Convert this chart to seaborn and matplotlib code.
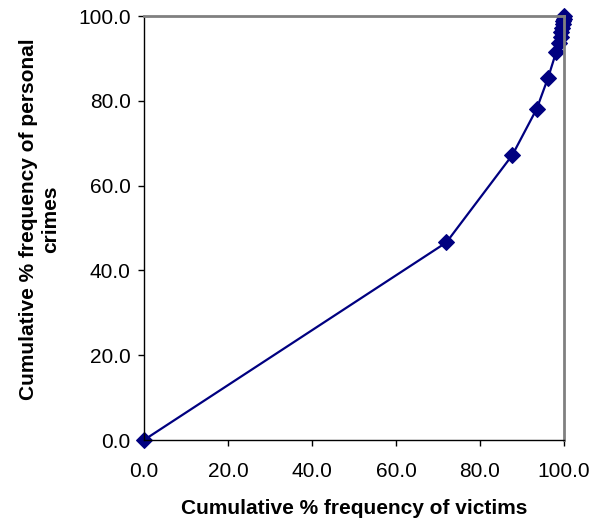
import matplotlib
matplotlib.use("Agg")
import matplotlib.pyplot as plt
import seaborn as sns
import pandas as pd

victims_pct = [0.0, 72.0, 87.7, 93.5, 96.2, 98.1, 98.9, 99.2, 99.4, 99.6, 99.7, 99.8, 99.9, 100.0]
crimes_pct = [0.0, 46.6, 67.2, 78.1, 85.4, 91.4, 93.6, 95.0, 96.2, 97.2, 98.0, 98.8, 99.4, 100.0]
ticks = [0.0, 20.0, 40.0, 60.0, 80.0, 100.0]
tick_labels = ["0.0", "20.0", "40.0", "60.0", "80.0", "100.0"]

sns.set_style("white")
plt.rcParams['font.family'] = ['Liberation Sans', 'DejaVu Sans']
plt.rcParams['text.color'] = 'black'
plt.rcParams['xtick.color'] = 'black'
plt.rcParams['ytick.color'] = 'black'
plt.rcParams['axes.labelcolor'] = 'black'

df = pd.DataFrame({"victims": victims_pct, "crimes": crimes_pct})

fig = plt.figure(figsize=(6.07, 5.27), dpi=100)
ax = fig.add_axes([144/607, 87/527, 420/607, 424/527])
sns.lineplot(data=df, x="victims", y="crimes", ax=ax, color="#000080",
             linewidth=1.6, marker="D", markersize=8, markeredgecolor="#000080",
             sort=False, estimator=None)
ax.set_xlim(0, 100)
ax.set_ylim(0, 100)
ax.set_xticks(ticks)
ax.set_xticklabels(tick_labels)
ax.set_yticks(ticks)
ax.set_yticklabels(tick_labels)
for s in ["left", "bottom"]:
    ax.spines[s].set_color("#000000")
    ax.spines[s].set_linewidth(1.0)
for s in ["top", "right"]:
    ax.spines[s].set_color("#808080")
    ax.spines[s].set_linewidth(2.0)
ax.tick_params(axis="both", direction="out", length=4.5, width=1, color="#000000",
               labelsize=15, bottom=True, left=True)
ax.tick_params(axis="x", pad=11)
ax.tick_params(axis="y", pad=5)
ax.set_xlabel("Cumulative % frequency of victims", fontsize=15, fontweight="bold")
ax.set_ylabel("Cumulative % frequency of personal\ncrimes", fontsize=15, fontweight="bold",
              linespacing=1.2)
ax.xaxis.set_label_coords(0.5, -0.14)
ax.yaxis.set_label_coords(-0.2, 0.52)
for line in ax.lines:
    line.set_clip_on(False)
fig.savefig("out.png", dpi=100, facecolor="white")
